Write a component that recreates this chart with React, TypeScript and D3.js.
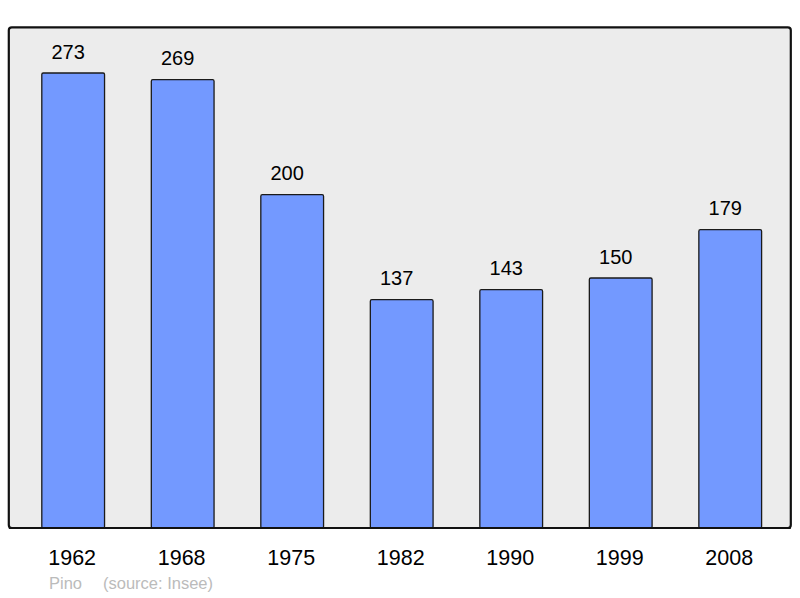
import React from 'react';
import * as d3 from 'd3';

// population by census year
const years = ['1962', '1968', '1975', '1982', '1990', '1999', '2008'];
const population = [273, 269, 200, 137, 143, 150, 179];

const footerName = 'Pino';
const footerSource = '(source: Insee)';

const W = 800;
const H = 598;
const frame = { left: 8.8, top: 27.3, right: 790.8, bottom: 528 };

export default function App() {
  const x = d3
    .scaleBand<string>()
    .domain(years)
    .range([41.8, 761.6])
    .paddingInner(0.427)
    .paddingOuter(0);

  const y = d3.scaleLinear().domain([0, 300]).range([frame.bottom, frame.bottom - 500]);

  const font = '"Liberation Sans", Arial, sans-serif';

  return (
    <svg
      width={W}
      height={H}
      style={{ position: 'absolute', left: 0, top: 0 }}
      fontFamily={font}
    >
      <rect x={0} y={0} width={W} height={H} fill="#ffffff" />
      <rect
        x={frame.left}
        y={frame.top}
        width={frame.right - frame.left}
        height={frame.bottom - frame.top}
        rx={3}
        fill="#ececec"
        stroke="#111"
        strokeWidth={2.2}
      />
      {years.map((yr, i) => {
        const bx = x(yr) as number;
        const cx = bx + x.bandwidth() / 2;
        const top = y(population[i]);
        return (
          <g key={yr}>
            <rect
              x={bx}
              y={top}
              width={x.bandwidth()}
              height={frame.bottom - top}
              rx={1.5}
              fill="#7399ff"
              stroke="#1a1a1a"
              strokeWidth={1.3}
            />
            <text x={cx - 5} y={top - 14.5} textAnchor="middle" fontSize={20} fill="#000">
              {population[i]}
            </text>
            <text x={cx - 1} y={564.5} textAnchor="middle" fontSize={21.5} fill="#000">
              {yr}
            </text>
          </g>
        );
      })}
      {/* frame bottom line over the bars */}
      <line
        x1={frame.left}
        x2={frame.right}
        y1={frame.bottom}
        y2={frame.bottom}
        stroke="#111"
        strokeWidth={2.2}
      />
      <text x={49} y={589} fontSize={16.5} fill="#bbbbbb">
        {footerName}
      </text>
      <text x={103} y={589} fontSize={16.5} fill="#bbbbbb">
        {footerSource}
      </text>
    </svg>
  );
}
